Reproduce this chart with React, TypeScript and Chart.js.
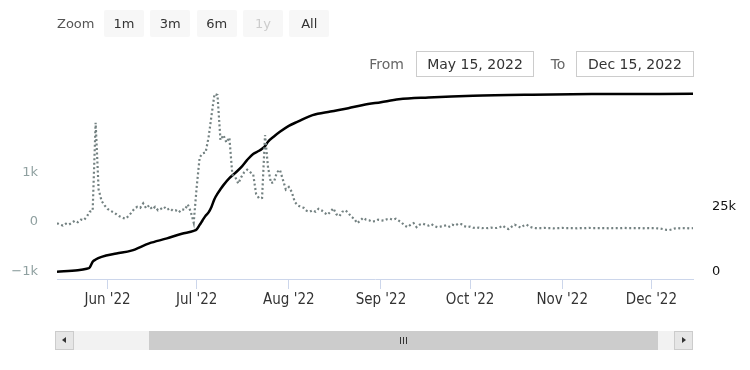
import React, { useEffect, useRef } from "react";
import { Chart, registerables } from "chart.js";

Chart.register(...registerables);

// Day 0 = May 15, 2022 (daily values through Dec 15, 2022)
const monthTicks = [17, 47, 78, 109, 139, 170, 200];
const monthLabels = ["Jun '22", "Jul '22", "Aug '22", "Sep '22", "Oct '22", "Nov '22", "Dec '22"];

const leftTicks = [-1000, 0, 1000];
const leftTickLabels = ["−1k", "0", "1k"];
const rightTicks = [0, 25000];
const rightTickLabels = ["0", "25k"];

const zoomButtons = ["1m", "3m", "6m", "1y", "All"];
const fromDate = "May 15, 2022";
const toDate = "Dec 15, 2022";

// dotted series (left axis), one value per day from May 15
const dotValues = [
  -30, -60, -80, -40, -60, -20, 20, -10, 40, 30, 100, 200, 220,
  2000, 650, 420, 330, 260, 220, 190, 150, 110, 80,
  60, 110, 180, 260, 300, 280, 370, 270, 330, 250,
  300, 230, 260, 300, 240, 270, 220, 230, 190, 250,
  240, 350, 200, -20, 700, 1300, 1380, 1400, 1700, 2150,
  2580, 2560, 1650, 1750, 1600, 1700, 950, 900, 770, 900,
  1000, 1050, 1000, 960, 560, 470, 480, 1750, 1100, 780,
  800, 1000, 1050, 850, 650, 700, 600, 400, 330, 300,
  280, 220, 200, 230, 200, 260, 230, 180, 140, 200,
  270, 150, 110, 200, 230, 180, 100, 60, -30, 20,
  80, 40, 30, 0, 10, 40, 30, 20, 50, 60,
  40, 60, 20, -20, -80, -110, -60, -30, -110, -60,
  -40, -60, -80, -50, -90, -110, -100, -90, -70, -100,
  -60, -80, -40, -50, -90, -110, -100, -120, -130, -120,
  -130, -125, -130, -120, -130, -125, -110, -80, -130, -150,
  -100, -60, -90, -120, -80, -60, -100, -120, -130, -130,
  -130, -125, -130, -130, -135, -130, -130, -125, -130, -130,
  -130, -130, -135, -130, -130, -130, -125, -130, -130, -130,
  -130, -130, -130, -135, -130, -130, -130, -130, -125, -130,
  -130, -130, -130, -130, -135, -130, -130, -130, -130, -135,
  -140, -150, -165, -170, -155, -135, -130, -135, -130, -130,
  -135, -130,
];

// solid series (right axis)
const blackDays = [
  0, 7, 10, 11, 12, 13, 15, 20, 25, 31,
  37, 42, 46, 47, 48, 49, 50, 51, 52, 53,
  54, 55, 56, 58, 60, 62, 64, 66, 68, 69,
  70, 71, 73, 75, 78, 81, 86, 92, 98, 103,
  109, 115, 125, 140, 160, 180, 214,
];
const blackValues = [
  0, 540, 1150, 1600, 3800, 4700, 5700, 7000, 8100, 10900,
  12800, 14600, 15700, 16300, 18000, 19800, 21500, 22800, 25000, 28000,
  30000, 31700, 33300, 36000, 38000, 40200, 43000, 45300, 46500, 47300,
  48300, 50000, 52000, 53800, 56100, 57700, 60200, 61600, 62900, 64100,
  65200, 66300, 67000, 67700, 68100, 68300, 68400,
];

const FONT = '"DejaVu Sans", sans-serif';

export default function App() {
  const ref = useRef<HTMLCanvasElement>(null);

  useEffect(() => {
    const canvas = ref.current;
    if (!canvas) return;
    const chart = new Chart(canvas, {
      type: "line",
      data: {
        datasets: [
          {
            label: "daily",
            data: dotValues.map((v, i) => ({ x: i, y: v })),
            yAxisID: "yL",
            borderColor: "#738181",
            borderWidth: 2.2,
            borderDash: [2, 2.5],
            pointRadius: 0,
            tension: 0,
            fill: false,
          },
          {
            label: "total",
            data: blackDays.map((d, i) => ({ x: d, y: blackValues[i] })),
            yAxisID: "yR",
            borderColor: "#000000",
            borderWidth: 2.5,
            pointRadius: 0,
            cubicInterpolationMode: "monotone",
            fill: false,
          },
        ],
      },
      options: {
        animation: false,
        responsive: false,
        devicePixelRatio: 1,
        events: [],
        layout: { padding: { top: 88, left: 0, right: 0, bottom: 0 } },
        plugins: { legend: { display: false }, tooltip: { enabled: false } },
        scales: {
          x: {
            type: "linear",
            min: 0,
            max: 214,
            afterFit: (s: any) => {
              s.height = 91;
            },
            afterBuildTicks: (s: any) => {
              s.ticks = monthTicks.map((v) => ({ value: v }));
            },
            ticks: {
              autoSkip: false,
              maxRotation: 0,
              padding: 2,
              color: "#333333",
              font: { family: '"DejaVu Sans Condensed", "Liberation Sans Narrow", "DejaVu Sans", sans-serif', size: 15 },
              callback: (v: any) => {
                const i = monthTicks.indexOf(Number(v));
                return i >= 0 ? monthLabels[i] : "";
              },
            },
            grid: { drawOnChartArea: false, drawTicks: true, tickLength: 10, color: "#ccd6eb" },
            border: { color: "#ccd6eb", width: 1 },
          },
          yL: {
            type: "linear",
            position: "left",
            min: -1158,
            max: 2701,
            afterFit: (s: any) => {
              s.width = 57;
            },
            afterBuildTicks: (s: any) => {
              s.ticks = leftTicks.map((v) => ({ value: v }));
            },
            ticks: {
              padding: 11,
              color: "#8fa0a0",
              font: { family: FONT, size: 13 },
              callback: (v: any) => {
                const i = leftTicks.indexOf(Number(v));
                return i >= 0 ? leftTickLabels[i] : "";
              },
            },
            grid: { display: false },
            border: { display: false },
          },
          yR: {
            type: "linear",
            position: "right",
            min: -2808,
            max: 70650,
            afterFit: (s: any) => {
              s.width = 57;
            },
            afterBuildTicks: (s: any) => {
              s.ticks = rightTicks.map((v) => ({ value: v }));
            },
            ticks: {
              padding: 11,
              color: "#111111",
              font: { family: FONT, size: 13 },
              callback: (v: any) => {
                const i = rightTicks.indexOf(Number(v));
                return i >= 0 ? rightTickLabels[i] : "";
              },
            },
            grid: { display: false },
            border: { display: false },
          },
        },
      },
    } as any);
    return () => chart.destroy();
  }, []);

  const abs = (l: number, t: number, w: number, h: number): React.CSSProperties => ({
    position: "absolute",
    left: l,
    top: t,
    width: w,
    height: h,
    boxSizing: "border-box",
  });

  return (
    <div style={{ position: "absolute", left: 0, top: 0, width: 750, height: 370, background: "#fff", fontFamily: FONT, overflow: "hidden" }}>
      <canvas ref={ref} width={750} height={370} style={{ position: "absolute", left: 0, top: 0, width: 750, height: 370 }} />

      {/* range selector buttons */}
      <div style={{ ...abs(57, 10, 45, 27), fontSize: 13, color: "#555", lineHeight: "27px" }}>Zoom</div>
      {zoomButtons.map((b, i) => (
        <div
          key={b}
          style={{
            ...abs(104 + i * 46.3, 10, 40, 27),
            background: "#f7f7f7",
            borderRadius: 2,
            fontSize: 13,
            lineHeight: "27px",
            textAlign: "center",
            color: b === "1y" ? "#cccccc" : "#333333",
          }}
        >
          {b}
        </div>
      ))}

      {/* date inputs */}
      <div style={{ ...abs(360, 51, 50, 26), fontSize: 14, color: "#666", lineHeight: "26px", textAlign: "right", paddingRight: 6 }}>From</div>
      <div style={{ ...abs(416, 51, 118, 26), border: "1px solid #cccccc", fontSize: 14, color: "#333", lineHeight: "24px", textAlign: "center" }}>{fromDate}</div>
      <div style={{ ...abs(540, 51, 36, 26), fontSize: 14, color: "#666", lineHeight: "26px", textAlign: "center" }}>To</div>
      <div style={{ ...abs(576, 51, 118, 26), border: "1px solid #cccccc", fontSize: 14, color: "#333", lineHeight: "24px", textAlign: "center" }}>{toDate}</div>

      {/* scrollbar */}
      <div style={{ ...abs(55, 331, 638, 19), background: "#f2f2f2" }} />
      <div style={{ ...abs(149, 331, 509, 19), background: "#cccccc" }} />
      {[0, 1, 2].map((k) => (
        <div key={k} style={{ ...abs(400 + k * 3, 337, 1.4, 7), background: "#333" }} />
      ))}
      <div style={{ ...abs(55, 331, 19, 19), background: "#e6e6e6", border: "1px solid #cccccc" }}>
        <div style={{ position: "absolute", left: 6, top: 5, width: 0, height: 0, borderTop: "3.5px solid transparent", borderBottom: "3.5px solid transparent", borderRight: "4px solid #333" }} />
      </div>
      <div style={{ ...abs(674, 331, 19, 19), background: "#e6e6e6", border: "1px solid #cccccc" }}>
        <div style={{ position: "absolute", left: 7, top: 5, width: 0, height: 0, borderTop: "3.5px solid transparent", borderBottom: "3.5px solid transparent", borderLeft: "4px solid #333" }} />
      </div>
    </div>
  );
}
